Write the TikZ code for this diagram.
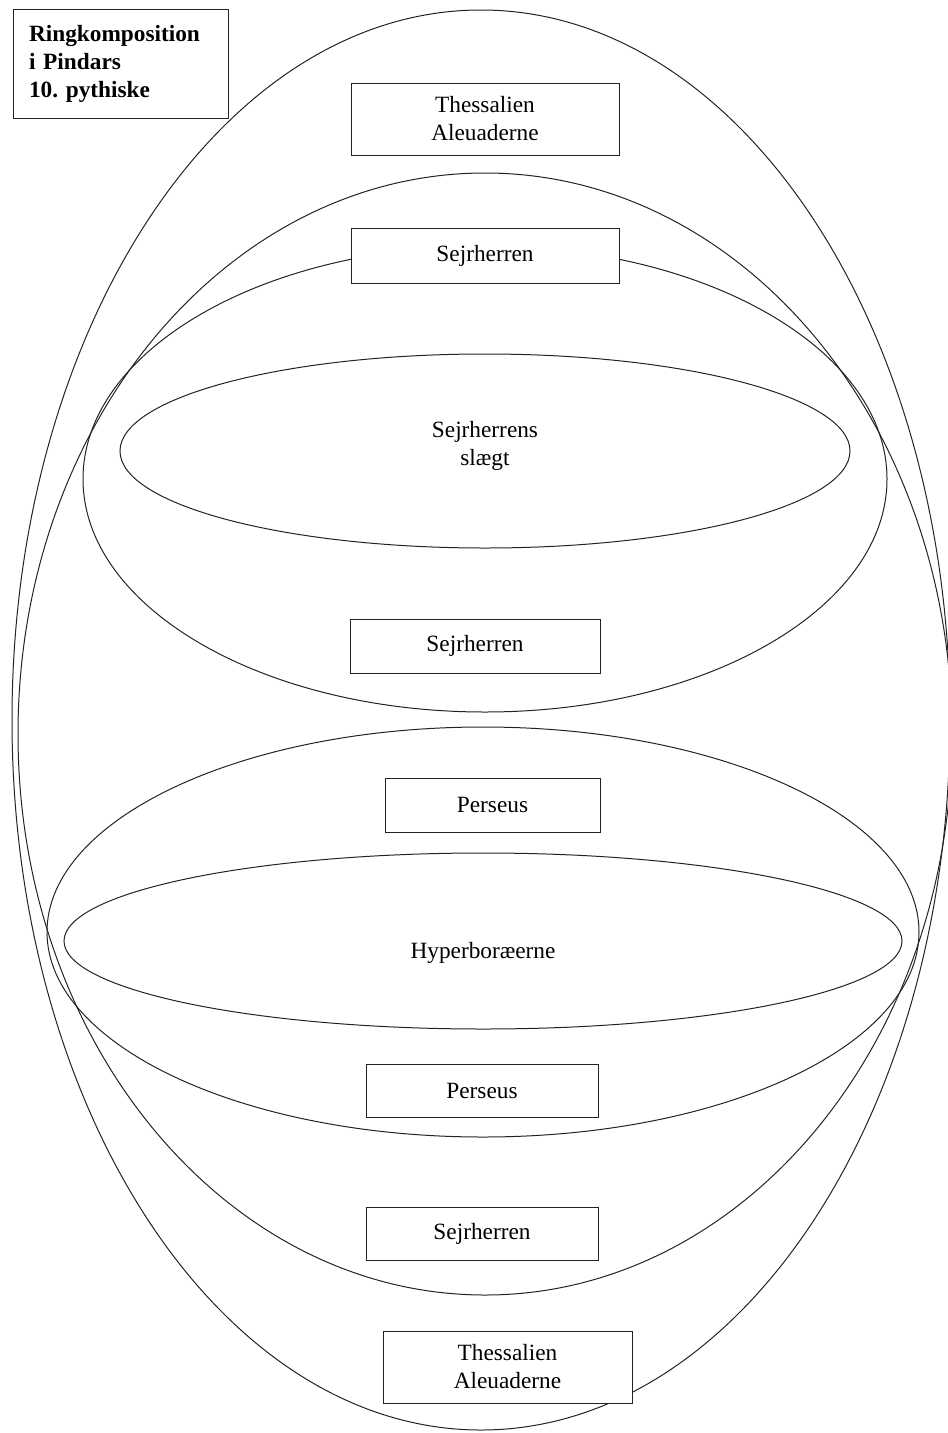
\documentclass[tikz,border=0pt]{standalone}
\usepackage{fontspec}
\setmainfont{Liberation Serif}
\usetikzlibrary{shapes.geometric}
\definecolor{ink}{RGB}{35,35,35}
\frenchspacing
\begin{document}
\begin{tikzpicture}[x=1pt,y=-1pt,
  ring/.style={draw=ink, ellipse, line width=1pt, inner sep=0pt},
  txt/.style={align=center, font=\fontsize{23.3}{28}\selectfont, inner sep=0pt},
  tbox/.style={draw=ink, fill=white, rectangle, line width=1pt, inner sep=0pt,
    align=center, font=\fontsize{23.3}{28}\selectfont},
  ]
\useasboundingbox (0,0) rectangle (948,1433);
% rings
\node[ring, minimum width=938pt, minimum height=1420pt] (outer) at (481,720) {};
\node[ring, minimum width=934pt, minimum height=1122pt] (second) at (485,734) {};
\node[ring, minimum width=804pt, minimum height=466pt] (slaegtring) at (485,479) {};
\node[ring, minimum width=730pt, minimum height=194pt] (slaegt) at (485,451) {};
\node[txt] (slaegttext) at (485,446) {Sejrherrens\\slægt};
\node[ring, minimum width=872pt, minimum height=410pt] (perseusring) at (483,932) {};
\node[ring, minimum width=838pt, minimum height=176pt] (hyper) at (483,941) {};
\node[txt] (hypertext) at (483,953) {Hyperboræerne};
% boxes
\node[tbox, minimum width=268pt, minimum height=72pt] (thess1) at (485,119) {Thessalien\\Aleuaderne};
\node[tbox, minimum width=268pt, minimum height=55pt] (sejr1) at (485,255.5) {Sejrherren};
\node[tbox, minimum width=250pt, minimum height=54pt] (sejr2) at (475,646) {Sejrherren};
\node[tbox, minimum width=215pt, minimum height=54pt] (pers1) at (492.5,805) {Perseus};
\node[tbox, minimum width=232pt, minimum height=53pt] (pers2) at (482,1090.5) {Perseus};
\node[tbox, minimum width=232pt, minimum height=53pt] (sejr3) at (482,1233.5) {Sejrherren};
\node[tbox, minimum width=249pt, minimum height=72pt] (thess2) at (507.5,1367) {Thessalien\\Aleuaderne};
% title
\node[draw=ink, fill=white, line width=1pt, inner xsep=16pt, inner ysep=0pt,
  text width=183pt, minimum height=109pt, align=left,
  font=\fontsize{23.3}{28}\selectfont\bfseries] (title) at (120.5,63.5)
  {Ringkomposition\\i Pindars\\10. pythiske};
\end{tikzpicture}
\end{document}
